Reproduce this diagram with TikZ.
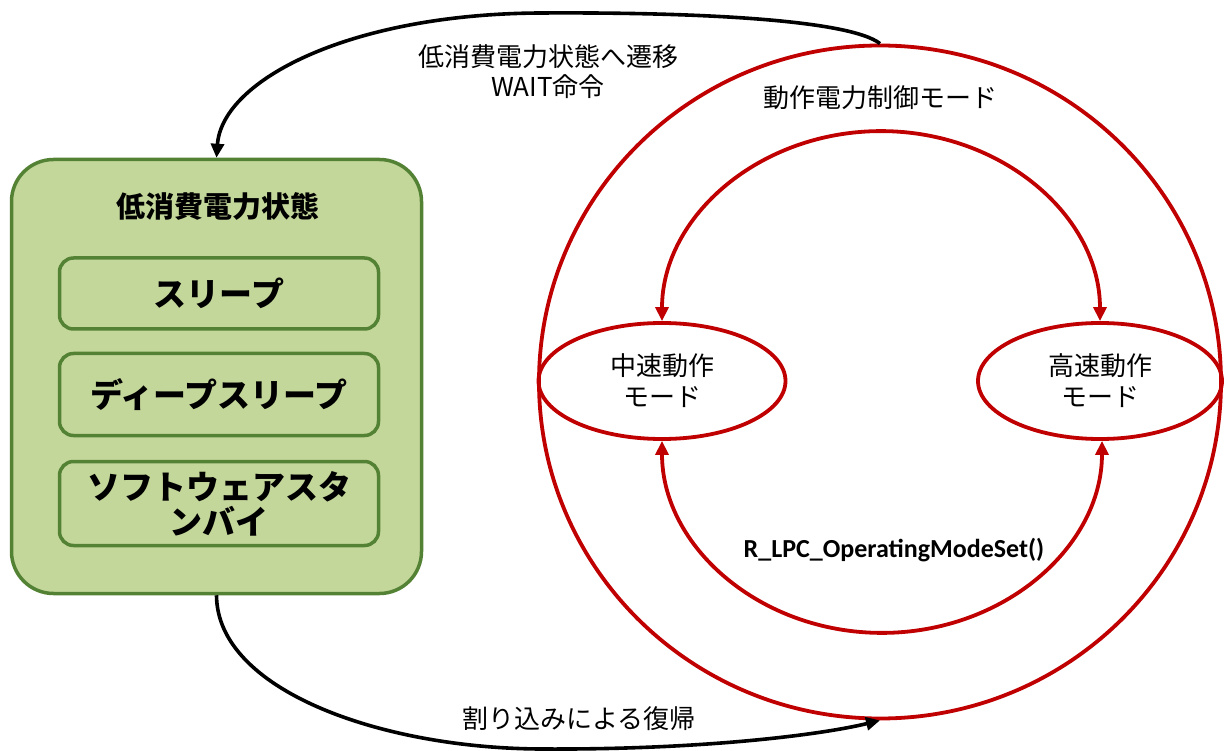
\documentclass[tikz,border=0pt]{standalone}
\usepackage{fontspec}
\usetikzlibrary{shapes.geometric,arrows.meta}
\newfontfamily\jpfont{Noto Sans CJK JP}
\newfontfamily\carlitofont{Carlito}
\definecolor{redline}{HTML}{C00000}
\definecolor{greenfill}{HTML}{C4D79B}
\definecolor{greenline}{HTML}{548235}
\tikzset{
  lbl/.style={font=\jpfont\fontsize{26pt}{30pt}\selectfont, align=center, inner sep=0pt},
  modeell/.style={ellipse, draw=redline, line width=3.8pt, inner sep=0pt, align=center,
    font=\jpfont\fontsize{26pt}{31pt}\selectfont},
  outerbox/.style={draw=greenline, fill=greenfill, line width=3.5pt, rounded corners=42pt,
    minimum width=410pt, minimum height=434pt, inner sep=0pt},
  innerbox/.style={draw=greenline, fill=greenfill, line width=3.5pt, rounded corners=14pt,
    minimum width=319pt, inner sep=0pt, align=center,
    font=\jpfont\bfseries\fontsize{33pt}{35pt}\selectfont},
  blackarrow/.style={line width=3.6pt, -{Triangle[length=14pt,width=13pt]}},
  redarrow/.style={draw=redline, line width=3.8pt, {Triangle[length=14pt,width=13pt]}-{Triangle[length=14pt,width=13pt]}},
}
\begin{document}
\begin{tikzpicture}[x=1pt,y=1pt]
\useasboundingbox (0,0) rectangle (1224,-751);
% big circle
\node[ellipse, draw=redline, line width=3.8pt, minimum width=682pt, minimum height=673pt, inner sep=0pt] (big) at (880,-382) {};
% mode ellipses
\node[modeell, minimum width=247pt, minimum height=116pt] (mid) at (662,-381) {中速動作\\モード};
\node[modeell, minimum width=244pt, minimum height=116pt] (high) at (1100,-381) {高速動作\\モード};
% red arcs
\draw[redarrow] (mid.north) arc[start angle=180, end angle=0, x radius=219, y radius=190];
\draw[redarrow] (mid.south) arc[start angle=180, end angle=360, x radius=220, y radius=192];
% green box
\node[outerbox] (low) at (216.5,-376.5) {};
\node[font=\jpfont\bfseries\fontsize{29pt}{32pt}\selectfont, inner sep=0pt] (ttl) at (218,-206) {低消費電力状態};
\node[innerbox, minimum height=71pt] (sleep) at (219,-293.5) {スリープ};
\node[innerbox, minimum height=82pt] (deep) at (219,-394.5) {ディープスリープ};
\node[innerbox, minimum height=84pt] (sstby) at (219,-503.5) {ソフトウェアスタ\\ンバイ};
% black arrows
\draw[blackarrow] (big.north) .. controls (850,-20) and (700,-12) .. (540,-13)
  .. controls (350,-14) and (222,-80) .. (low.north);
\draw[blackarrow] (low.south) .. controls (217,-690) and (380,-748) .. (540,-749)
  .. controls (700,-750) and (820,-735) .. (big.south);
% labels
\node[lbl] (t1) at (548,-72) {低消費電力状態へ遷移\\WAIT命令};
\node[lbl] (t2) at (880,-98) {動作電力制御モード};
\node[lbl] (t3) at (579,-719) {割り込みによる復帰};
\node[font=\carlitofont\bfseries\fontsize{26pt}{30pt}\selectfont, inner sep=0pt] (t4) at (894,-550) {R\_LPC\_OperatingModeSet()};
\end{tikzpicture}
\end{document}
